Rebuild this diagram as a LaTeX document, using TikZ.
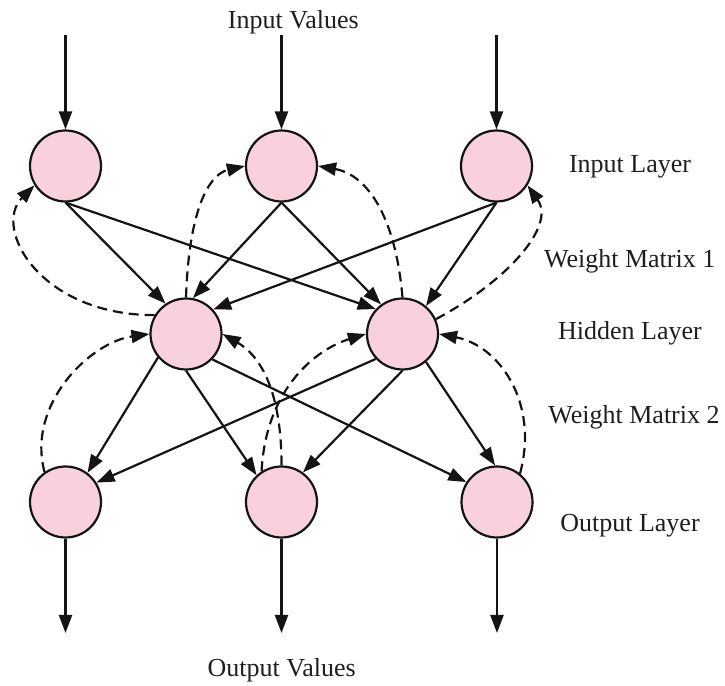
\documentclass[tikz,border=0pt]{standalone}
\usepackage{fontspec}
\setmainfont{Liberation Serif}
\usetikzlibrary{arrows.meta}
\definecolor{nodepink}{RGB}{249,209,220}
\definecolor{edgeblack}{RGB}{20,20,20}
\definecolor{textgray}{RGB}{30,30,30}
\begin{document}
\begin{tikzpicture}[x=1pt,y=1pt,
  neuron/.style={circle, draw=edgeblack, fill=nodepink, line width=2.2pt, minimum size=71pt, inner sep=0pt},
  conn/.style={draw=edgeblack, line width=2.2pt, -{Triangle[length=18pt,width=13pt]}},
  feedback/.style={conn, dash pattern=on 10pt off 6pt},
  lbl/.style={font=\fontsize{26}{30}\selectfont, text=textgray, anchor=base, inner sep=0pt}
]
\useasboundingbox (0,0) rectangle (725,685);
% neurons
\node[neuron] (i1) at (65.5,519) {};
\node[neuron] (i2) at (281.5,519) {};
\node[neuron] (i3) at (496.5,519) {};
\node[neuron] (h1) at (186,351) {};
\node[neuron] (h2) at (402.5,351) {};
\node[neuron] (o1) at (65.5,183) {};
\node[neuron] (o2) at (281.5,183) {};
\node[neuron] (o3) at (497,183) {};
% free ends
\coordinate (in1) at (65.5,650);
\coordinate (in2) at (281.5,650);
\coordinate (in3) at (496.5,650);
\coordinate (out1) at (65.5,52);
\coordinate (out2) at (281.5,52);
\coordinate (out3) at (497,52);
% labels
\node[lbl] (tIV) at (293.3,656.7) {Input Values};
\node[lbl] (tIL) at (630,512) {Input Layer};
\node[lbl] (tW1) at (629.7,417) {Weight Matrix 1};
\node[lbl] (tHL) at (630,345) {Hidden Layer};
\node[lbl] (tW2) at (634,261.7) {Weight Matrix 2};
\node[lbl] (tOL) at (630,153.3) {Output Layer};
\node[lbl] (tOV) at (281.7,9) {Output Values};
% input / output arrows
\draw[conn] (in1) -- (i1.north);
\draw[conn] (in2) -- (i2.north);
\draw[conn] (in3) -- (i3.north);
\draw[conn] (o1.south) -- (out1);
\draw[conn] (o2.south) -- (out2);
\draw[conn] (o3.south) -- (out3);
% weight matrix 1
\draw[conn] (i1.south) -- (h1.124);
\draw[conn] (i1.south) -- (h2.137);
\draw[conn] (i2.south) -- (h1.79);
\draw[conn] (i2.south) -- (h2.126);
\draw[conn] (i3.south) -- (h1.42);
\draw[conn] (i3.south) -- (h2.50);
% weight matrix 2
\draw[conn] (h1.220) -- (o1.53);
\draw[conn] (h1.270) -- (o2.133);
\draw[conn] (h1.316) -- (o3.147);
\draw[conn] (h2.223) -- (o1.32);
\draw[conn] (h2.270) -- (o2.54);
\draw[conn] (h2.310) -- (o3.93);
% feedback (dashed)
\draw[feedback] (h1.149) to[out=180,in=225,out distance=115,in distance=60] (i1.212);
\draw[feedback] (h1.90) to[out=88,in=193,out distance=100,in distance=32] (i2.180);
\draw[feedback] (h2.90) to[out=95,in=-10,out distance=90,in distance=45] (i2.0);
\draw[feedback] (h2.24) to[out=28,in=-55,out distance=80,in distance=50] (i3.-32);
\draw[feedback] (o1.125) to[out=105,in=188,out distance=70,in distance=60] (h1.180);
\draw[feedback] (o2.123) to[out=87,in=197,out distance=85,in distance=50] (h2.180);
\draw[feedback] (o2.90) to[out=90,in=-30,out distance=80,in distance=40] (h1.0);
\draw[feedback] (o3.51) to[out=75,in=-11,out distance=75,in distance=60] (h2.0);
\end{tikzpicture}
\end{document}
